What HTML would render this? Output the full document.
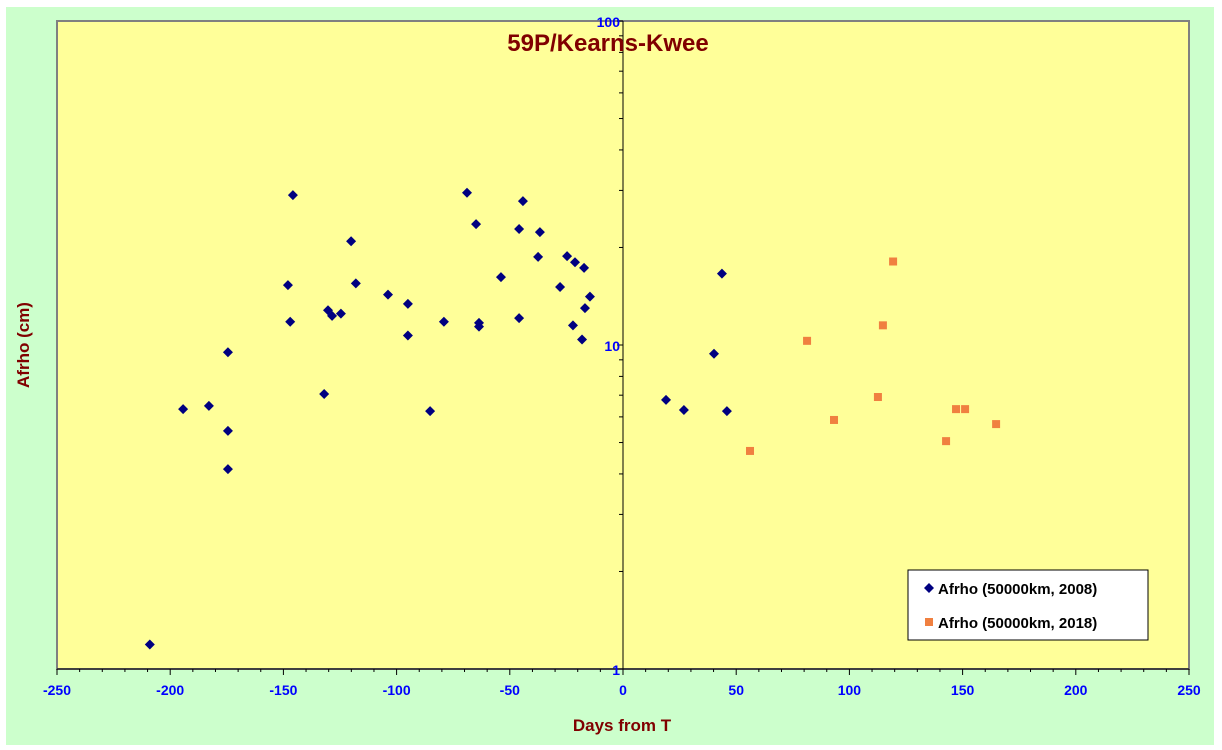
<!DOCTYPE html>
<html><head><meta charset="utf-8"><style>
body{margin:0;background:#fff;font-family:"Liberation Sans",Arial,sans-serif}
svg{display:block}
</style></head><body>
<svg id="chart" width="1222" height="750" xmlns="http://www.w3.org/2000/svg" font-family="Liberation Sans, Arial, sans-serif">
<rect x="6" y="7" width="1208" height="738" fill="#ccffcc"/>
<rect x="57" y="21" width="1132" height="648" fill="#ffff99" stroke="#808080" stroke-width="2"/>
<g id="axes"></g>
<g id="marks"></g>
<text x="608" y="51" text-anchor="middle" font-size="24" font-weight="bold" fill="#800000">59P/Kearns-Kwee</text>
<text x="622" y="731" text-anchor="middle" font-size="17" font-weight="bold" fill="#800000">Days from T</text>
<text transform="translate(29,345) rotate(-90)" text-anchor="middle" font-size="17" font-weight="bold" fill="#800000">Afrho (cm)</text>
<g>
<rect x="908" y="570" width="240" height="70" fill="#fff" stroke="#000" stroke-width="1"/>
<path d="M929,583 l5,5 l-5,5 l-5,-5z" fill="#000080"/>
<text x="938" y="594" font-size="15" font-weight="bold">Afrho (50000km, 2008)</text>
<rect x="925" y="618" width="8" height="8" fill="#f08040"/>
<text x="938" y="628" font-size="15" font-weight="bold">Afrho (50000km, 2018)</text>
</g>
</svg>
<script>
const xTicks=[-250,-200,-150,-100,-50,0,50,100,150,200,250];
const yTicks=[1,10,100];
const days2008=[-209,-194.3,-182.9,-174.5,-174.5,-174.5,-145.8,-148,-147,-132,-130.3,-128.5,-124.6,-120.1,-118,-103.8,-95,-95,-85.2,-79.1,-68.9,-64.9,-63.6,-63.6,-53.9,-45.9,-45.9,-44.2,-36.7,-37.5,-27.8,-24.7,-22.1,-21.2,-17.2,-16.8,-18.1,-14.6,19,26.9,40.2,43.7,45.9];
const afrho2008=[1.19,6.34,6.49,9.5,5.43,4.14,29,15.3,11.8,7.06,12.8,12.3,12.5,20.9,15.5,14.3,13.4,10.7,6.25,11.8,29.5,23.6,11.7,11.4,16.2,22.8,12.1,27.8,22.3,18.7,15.1,18.8,11.5,18.0,17.3,13.0,10.4,14.1,6.77,6.3,9.4,16.6,6.25];
const days2018=[56.1,81.3,93.2,112.6,114.8,119.3,142.7,147.1,151.1,164.8];
const afrho2018=[4.71,10.3,5.87,6.91,11.5,18.1,5.05,6.34,6.34,5.7];
const NS="http://www.w3.org/2000/svg";
const X0=57,X1=1189,Y0=669,Y1=21;
function xs(v){return X0+(v+250)/500*(X1-X0);}
function ys(v){return Y0-Math.log10(v)/2*(Y0-Y1);}
function mk(tag,attrs,parent){const e=document.createElementNS(NS,tag);for(const k in attrs)e.setAttribute(k,attrs[k]);parent.appendChild(e);return e;}
const axes=document.getElementById('axes'),marks=document.getElementById('marks');
const ax0=xs(0);
let l=mk('line',{x1:X0,y1:Y0,x2:X1,y2:Y0,stroke:'#000'},axes);


l=mk('line',{x1:ax0,y1:Y0,x2:ax0,y2:Y1,stroke:'#000'},axes);


for(let v=-250;v<=250;v+=10){const big=v%50===0;const t=mk('line',{x1:xs(v),y1:Y0,x2:xs(v),y2:Y0+(big?6:3),stroke:'#000'},axes);

}
xTicks.forEach(v=>{const t=mk('text',{x:xs(v),y:Y0+26,'text-anchor':'middle','font-size':14,'font-weight':'bold',fill:'#0000ff'},axes);t.textContent=v;

});
for(let d=0;d<2;d++)for(let m=1;m<=10;m++){const v=Math.pow(10,d)*m;const big=m===1||m===10;const t=mk('line',{x1:ax0-(big?6:4),y1:ys(v),x2:ax0,y2:ys(v),stroke:'#000'},axes);

}
yTicks.forEach(v=>{const t=mk('text',{x:ax0-3,y:ys(v)+6,'text-anchor':'end','font-size':14,'font-weight':'bold',fill:'#0000ff'},axes);t.textContent=v;

});
days2008.forEach((d,i)=>{const x=xs(d),y=ys(afrho2008[i]);const p=mk('path',{d:`M${x},${y-5} l5,5 l-5,5 l-5,-5z`,fill:'#000080'},marks);

});
days2018.forEach((d,i)=>{const x=xs(d),y=ys(afrho2018[i]);const p=mk('rect',{x:x-4,y:y-4,width:8,height:8,fill:'#f08040'},marks);

});
</script>
</body></html>
